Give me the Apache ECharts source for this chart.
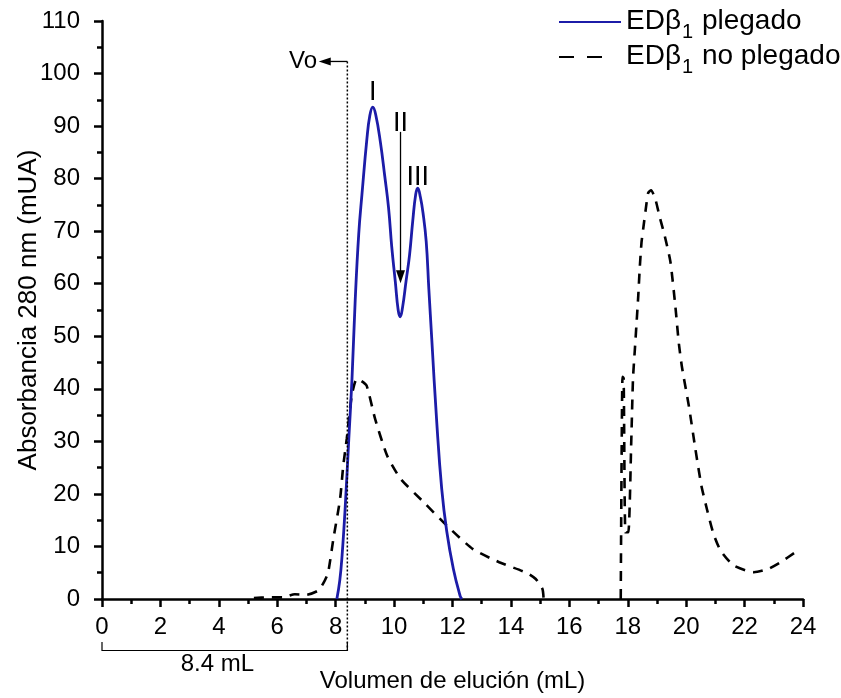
<!DOCTYPE html>
<html>
<head>
<meta charset="utf-8">
<script src="https://cdn.jsdelivr.net/npm/echarts@6/dist/echarts.min.js"></script>
<style>
  html, body { margin: 0; padding: 0; background: #fff; }
  #chart { width: 841px; height: 698px; }
</style>
</head>
<body>
<div id="chart"></div>
<script>
// ---- Data ----
const seriesNames = ['EDβ1 plegado', 'EDβ1 no plegado'];

// EDβ1 plegado (blue, solid): elution volume (mL) and absorbance (mUA)
const foldedX = [8.04, 8.14, 8.22, 8.33, 8.45, 8.56, 8.67, 8.79, 8.90, 9.07, 9.17, 9.27, 9.37, 9.53, 9.68, 9.81, 9.92, 10.04, 10.14, 10.21, 10.29, 10.41, 10.53, 10.64, 10.74, 10.81, 10.90, 10.99, 11.10, 11.19, 11.29, 11.46, 11.63, 11.80, 12.03, 12.26, 12.32];
const foldedY = [0, 3.5, 8.3, 17.8, 30.5, 42, 57, 69.5, 77, 87.6, 92, 93.6, 92.2, 87, 80.5, 74.5, 67, 60.5, 55, 53.7, 55.5, 60.5, 65.5, 72, 77, 78.2, 76.5, 73.5, 68, 59, 49.5, 33.7, 21, 13, 5.7, 0.6, 0];

// EDβ1 no plegado (black, dashed): elution volume (mL) and absorbance (mUA)
const unfoldedX = [5.2, 5.7, 6.2, 6.6, 7.0, 7.4, 7.58, 7.74, 7.92, 8.15, 8.26, 8.38, 8.55, 8.72, 8.88, 9.06, 9.35, 9.76, 10.22, 11.0, 11.8, 12.7, 13.6, 14.53, 14.85, 15.08, 15.12,
  16.5,
  17.76, 17.82, 17.86, 17.92, 18.02, 18.12, 18.18, 18.24, 18.30, 18.36, 18.41, 18.47, 18.53, 18.61, 18.70, 18.80, 18.95, 19.08, 19.27, 19.46, 19.63, 19.75, 19.86, 20.09, 20.32, 20.52, 20.72, 20.93, 21.18, 21.62, 22.32, 22.8, 23.23, 23.74];
const unfoldedY = [0.2, 0.3, 0.3, 0.9, 0.8, 1.6, 3, 5, 11.4, 19, 25.4, 30.5, 38.7, 41.9, 41.5, 40.6, 34.3, 27.3, 22.9, 18.5, 14, 9.5, 7, 5, 3.8, 1.9, 0,
  '-',
  0, 42.3, 42, 12.7, 12.7, 30, 42, 47.2, 52.4, 57.7, 62.9, 67.8, 70.5, 73.9, 77.3, 77.8, 76, 73, 69, 64.2, 55.7, 48.6, 44, 36.8, 28.4, 21.6, 16.9, 12.5, 9.2, 6.4, 5.1, 5.7, 7, 8.9];

// Axis ticks
const xMin = 0, xMax = 24, xStep = 2;
const yMin = 0, yMax = 110, yStep = 10;

// Annotation values
const volumeVo = 8.4;          // void volume (mL)
const bracketLabel = '8.4 mL';
const peakLabels = ['I', 'II', 'III'];
const peakLabelX = [9.27, 10.22, 10.81];
const peakLabelY = [96.3, 90.4, 80.3];
const arrowIIFrom = 88.9, arrowIITo = 60.1;

// ---- Chart ----
const FONT = 'Liberation Sans, Arial, sans-serif';
const BLUE = '#1c1ca8';
const chart = echarts.init(document.getElementById('chart'), null, { renderer: 'canvas' });

function zip(xs, ys) { return xs.map((x, i) => [x, ys[i]]); }

const legendFormatter = function (name) {
  const rest = name.replace('EDβ1', '');
  return '{m|EDβ}{s|1}{m|' + rest + '}';
};

const option = {
  animation: false,
  backgroundColor: '#fff',
  textStyle: { fontFamily: FONT },
  grid: { left: 102, right: 38, top: 21, bottom: 99, containLabel: false, outerBoundsMode: 'none' },
  legend: {
    orient: 'vertical',
    left: 553,
    top: 2,
    itemWidth: 62,
    itemHeight: 14,
    itemGap: 0,
    selectedMode: false,
    formatter: legendFormatter,
    itemStyle: { opacity: 0, borderWidth: 0 },
    textStyle: {
      fontFamily: FONT, color: '#000', fontSize: 28,
      rich: {
        m: { fontSize: 28, lineHeight: 30, verticalAlign: 'top', fontFamily: FONT, color: '#000' },
        s: { fontSize: 20, lineHeight: 20, verticalAlign: 'top', padding: [15, 1, 0, 1], fontFamily: FONT, color: '#000' }
      }
    },
    data: [
      { name: seriesNames[0], itemStyle: { opacity: 0 } },
      { name: seriesNames[1], itemStyle: { opacity: 0 }, lineStyle: { type: [15, 13, 15, 60] } }
    ]
  },
  xAxis: {
    type: 'value', min: xMin, max: xMax, interval: xStep,
    name: 'Volumen de elución (mL)', nameLocation: 'middle', nameGap: 70,
    nameTextStyle: { fontSize: 24, color: '#000', fontFamily: FONT },
    axisLine: { onZero: false, lineStyle: { color: '#000', width: 2.5 } },
    axisTick: { inside: false, length: 8, lineStyle: { color: '#000', width: 2.5 } },
    minorTick: { show: true, splitNumber: 2, length: 5, lineStyle: { color: '#000', width: 2.5 } },
    axisLabel: { fontSize: 24, color: '#000', margin: 16, fontFamily: FONT },
    splitLine: { show: false }
  },
  yAxis: {
    type: 'value', min: yMin, max: yMax, interval: yStep,
    name: 'Absorbancia 280 nm (mUA)', nameLocation: 'middle', nameGap: 60, nameMoveOverlap: false,
    nameTextStyle: { fontSize: 26, color: '#000', fontFamily: FONT },
    axisLine: { onZero: false, lineStyle: { color: '#000', width: 2.5 } },
    axisTick: { inside: false, length: 8, lineStyle: { color: '#000', width: 2.5 } },
    minorTick: { show: true, splitNumber: 2, length: 5, lineStyle: { color: '#000', width: 2.5 } },
    axisLabel: { fontSize: 24, color: '#000', margin: 22, fontFamily: FONT },
    splitLine: { show: false }
  },
  series: [
    {
      name: seriesNames[0], type: 'line', data: zip(foldedX, foldedY),
      showSymbol: false, symbol: 'none', smooth: 0.45, clip: true,
      lineStyle: { color: BLUE, width: 2.8 }, itemStyle: { color: BLUE }, z: 3
    },
    {
      name: seriesNames[1], type: 'line', data: zip(unfoldedX, unfoldedY),
      showSymbol: false, symbol: 'none', smooth: 0.2, connectNulls: false, clip: false,
      lineStyle: { color: '#000', width: 2.6, type: [10, 8] }, itemStyle: { color: '#000' }, z: 2
    }
  ]
};
chart.setOption(option);

// ---- Annotations anchored to data coordinates ----
function P(x, y) { return chart.convertToPixel({ gridIndex: 0 }, [x, y]); }

const voTop = P(volumeVo, 102.3);
const voBottom = P(volumeVo, -9.8);
const bracketLeft = P(0, -9.8);
const bracketEndTop = -8.2;
const arrowTip = P(7.42, 102.3);
const voText = P(7.36, 102.3);
const brLabel = P(3.95, -12.5);
const iiTop = P(peakLabelX[1], arrowIIFrom);
const iiTip = P(peakLabelX[1], arrowIITo);

const graphics = [
  { type: 'line', shape: { x1: voTop[0], y1: voTop[1], x2: voBottom[0], y2: voBottom[1] },
    style: { stroke: '#000', lineWidth: 1.5, lineDash: [2, 2] }, z: 10 },
  { type: 'line', shape: { x1: voTop[0], y1: voTop[1], x2: arrowTip[0] + 10, y2: voTop[1] },
    style: { stroke: '#000', lineWidth: 1.3 }, z: 10 },
  { type: 'polygon', shape: { points: [[arrowTip[0], arrowTip[1]], [arrowTip[0] + 12, arrowTip[1] - 4], [arrowTip[0] + 12, arrowTip[1] + 4]] },
    style: { fill: '#000' }, z: 10 },
  { type: 'text', x: voText[0], y: voText[1],
    style: { text: 'Vo', fontSize: 24, fontFamily: FONT, fill: '#000', align: 'right', verticalAlign: 'middle' }, z: 10 },
  { type: 'polyline', shape: { points: [[bracketLeft[0], P(0, bracketEndTop)[1]], [bracketLeft[0], bracketLeft[1]], [voBottom[0], voBottom[1]], [voBottom[0], P(volumeVo, bracketEndTop)[1]]] },
    style: { stroke: '#000', lineWidth: 1.2, fill: null }, z: 10 },
  { type: 'text', x: brLabel[0], y: brLabel[1],
    style: { text: bracketLabel, fontSize: 24, fontFamily: FONT, fill: '#000', align: 'center', verticalAlign: 'middle' }, z: 10 },
  { type: 'line', shape: { x1: iiTop[0], y1: iiTop[1], x2: iiTip[0], y2: iiTip[1] - 10 },
    style: { stroke: '#000', lineWidth: 1.3 }, z: 10 },
  { type: 'polygon', shape: { points: [[iiTip[0], iiTip[1]], [iiTip[0] - 4.5, iiTip[1] - 13], [iiTip[0] + 4.5, iiTip[1] - 13]] },
    style: { fill: '#000' }, z: 10 }
];
peakLabels.forEach((t, i) => {
  const p = P(peakLabelX[i], peakLabelY[i]);
  graphics.push({ type: 'text', x: p[0], y: p[1],
    style: { text: t, fontSize: 27, fontFamily: FONT, fill: '#000', align: 'center', verticalAlign: 'middle' }, z: 10 });
});
chart.setOption({ graphic: graphics });
</script>
</body>
</html>
